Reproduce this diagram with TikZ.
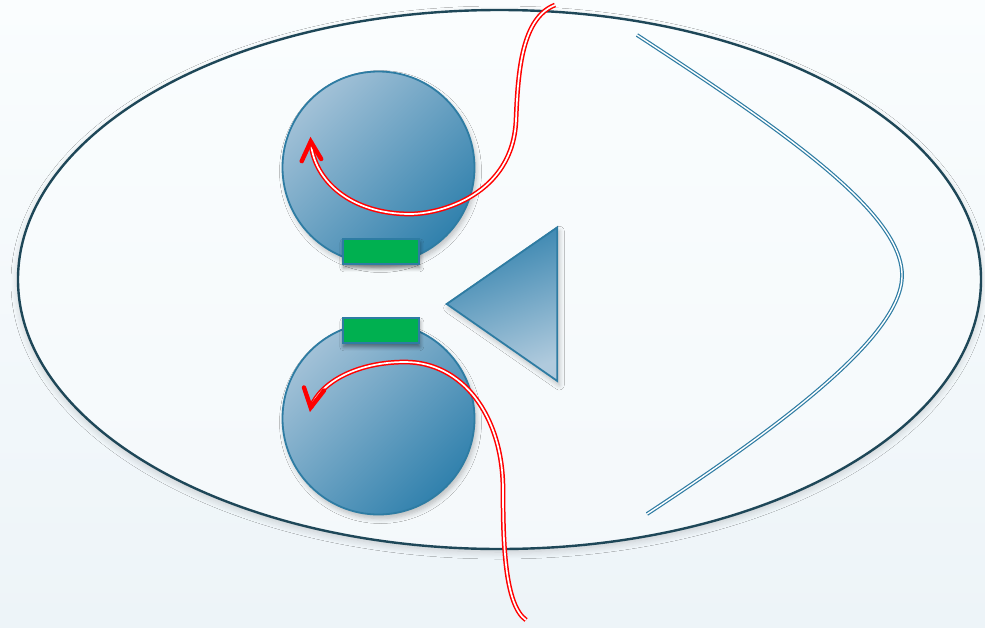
\documentclass[tikz,border=0pt]{standalone}
\usetikzlibrary{shadows.blur,calc}
\definecolor{bgtop}{HTML}{FAFDFE}
\definecolor{bgbot}{HTML}{EDF4F8}
\definecolor{ringcol}{HTML}{1E4758}
\definecolor{ballline}{HTML}{2E7CA3}
\definecolor{balldark}{HTML}{3181AD}
\definecolor{balllight}{HTML}{A2C1D7}
\definecolor{gfill}{HTML}{00B050}
\definecolor{redc}{HTML}{FF0000}
\tikzset{
  ring/.style={draw=ringcol, line width=2.4pt, top color=bgtop, bottom color=bgbot!60!white,
    blur shadow={shadow xshift=0pt, shadow yshift=-3pt, shadow blur steps=8, shadow opacity=18, shadow blur radius=7pt}},
  ball/.style={circle, inner sep=0pt, minimum size=192pt, draw=ballline, line width=1.8pt,
    top color=balllight, bottom color=balldark, shading angle=45,
    blur shadow={shadow xshift=2pt, shadow yshift=-4pt, shadow blur steps=6, shadow opacity=25, shadow blur radius=5pt}},
  gbox/.style={rectangle, inner sep=0pt, minimum width=76pt, minimum height=25pt, draw=ballline, line width=2.2pt, fill=gfill,
    blur shadow={shadow xshift=1pt, shadow yshift=-4pt, shadow blur steps=6, shadow opacity=45, shadow blur radius=4pt}},
  tri/.style={draw=ballline, line width=1.8pt, top color=balldark, bottom color=balllight!85!white, shading angle=20,
    blur shadow={shadow xshift=2pt, shadow yshift=-4pt, shadow blur steps=6, shadow opacity=25, shadow blur radius=5pt}},
  redline/.style={draw=redc, double=white, line width=1.5pt, double distance=1.7pt},
  bluewire/.style={draw=ballline, double=white, line width=1.2pt, double distance=1.4pt},
  chevron/.style={draw=redc, line width=4.4pt, line cap=round, line join=miter},
}
\begin{document}
\begin{tikzpicture}[x=1pt,y=-1pt]
\useasboundingbox (0,0) rectangle (985,627);
\shade[top color=bgtop, bottom color=bgbot] (0,0) rectangle (985,627);
% big ellipse
\path[ring] (499.5,279.5) ellipse [x radius=481.5, y radius=269.5];
% circles and boxes
\node[ball] (c1) at (378.5,167.5) {};
\node[gbox] (r1) at (380.8,251.3) {};
\node[ball] (c2) at (378.5,418.5) {};
\node[gbox] (r2) at (380.8,330.3) {};
% triangle
\coordinate (t1) at (446.7,304);
\coordinate (t2) at (557.3,227.3);
\coordinate (t3) at (557.3,381);
\path[tri] (t1) -- (t2) -- (t3) -- cycle;
% blue wire
\coordinate (b1) at (637,35);
\coordinate (b2) at (902,277);
\coordinate (b3) at (647,514);
\draw[bluewire] (b1) .. controls (790,135) and (904,215) .. (b2) .. controls (900,335) and (790,420) .. (b3);
% top red curve
\coordinate (p1) at (555,5);
\coordinate (p2) at (516,120);
\coordinate (p3) at (410,214);
\coordinate (tipA) at (310.7,141.5);
\draw[redline] (p1) .. controls (522,18) and (518,70) .. (p2) .. controls (513,195) and (440,214) .. (p3) .. controls (352,214) and (314,182) .. (tipA);
\draw[chevron] (301.7,161.2) -- (tipA) -- (321.2,159);
% bottom red curve
\coordinate (q1) at (526,620);
\coordinate (q2) at (503,490);
\coordinate (q3) at (405,362);
\coordinate (tipB) at (310.7,407.5);
\draw[redline] (q1) .. controls (505,605) and (503,545) .. (q2) .. controls (503,415) and (462,362) .. (q3) .. controls (360,362) and (322,380) .. (tipB);
\draw[chevron] (304,387.5) -- (tipB) -- (324,390.5);
\end{tikzpicture}
\end{document}
